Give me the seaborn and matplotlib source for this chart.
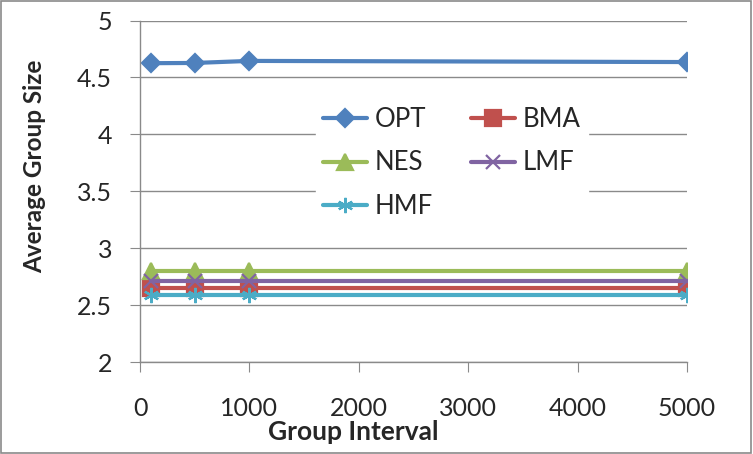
import pandas as pd
import matplotlib.pyplot as plt
import seaborn as sns
from matplotlib.patches import Rectangle

# data
intervals = [100, 500, 1000, 5000]
opt = [4.625, 4.627, 4.645, 4.635]
bma = [2.65, 2.65, 2.65, 2.65]
nes = [2.80, 2.80, 2.80, 2.80]
lmf = [2.71, 2.71, 2.71, 2.71]
hmf = [2.59, 2.59, 2.59, 2.59]
methods = ["OPT", "BMA", "NES", "LMF", "HMF"]

rows = []
for name, vals in zip(methods, [opt, bma, nes, lmf, hmf]):
    for x, y in zip(intervals, vals):
        rows.append({"interval": x, "size": y, "method": name})
df = pd.DataFrame(rows)

sns.set_style("white")
plt.rcParams["font.family"] = ["Lato", "DejaVu Sans"]

colors = {"OPT": "#4F81BD", "BMA": "#C0504D", "NES": "#9BBB59",
          "LMF": "#8064A2", "HMF": "#4BACC6"}
markers = {"OPT": "D", "BMA": "s", "NES": "^", "LMF": "x", "HMF": (6, 2, 0)}
msize = {"OPT": 9, "BMA": 11, "NES": 11, "LMF": 10, "HMF": 11}

fig = plt.figure(figsize=(7.53, 4.54), dpi=100)
ax = fig.add_axes([140 / 753, 1 - 362 / 454, 547 / 753, 341.5 / 454])

for name in methods:
    sub = df[df["method"] == name]
    sns.lineplot(data=sub, x="interval", y="size", ax=ax, color=colors[name],
                 linewidth=3, marker=markers[name], markersize=msize[name],
                 markeredgewidth=1.6, markeredgecolor=colors[name],
                 label=name, legend=False)

ax.set_xlim(0, 5000)
ax.set_ylim(2, 5)
ax.set_xticks(range(0, 5001, 1000))
ax.set_yticks([2, 2.5, 3, 3.5, 4, 4.5, 5])
ax.set_yticklabels(["2", "2.5", "3", "3.5", "4", "4.5", "5"])
ax.yaxis.grid(True, color="#8a8a8a", linewidth=1)
ax.set_axisbelow(True)
for side in ["top", "right"]:
    ax.spines[side].set_visible(False)
for side in ["left", "bottom"]:
    ax.spines[side].set_color("#8a8a8a")
    ax.spines[side].set_linewidth(1)
ax.tick_params(axis="both", which="major", direction="out", length=7,
               color="#8a8a8a", labelsize=18, left=True, bottom=True)
ax.tick_params(axis="y", pad=13)
ax.tick_params(axis="x", pad=18)
ax.set_xlabel("")
ax.set_ylabel("")

fig.text(353 / 753, 1 - 432 / 454, "Group Interval", ha="center", va="center",
         fontsize=19, fontweight="bold")
fig.text(35 / 753, 1 - 166 / 454, "Average Group Size", ha="center", va="center",
         rotation=90, fontsize=17.5, fontweight="bold")

handles, labels = ax.get_legend_handles_labels()
order = ["OPT", "NES", "HMF", "BMA", "LMF"]
hmap = dict(zip(labels, handles))
leg = fig.legend([hmap[k] for k in order], order, ncol=2, loc="center",
                 bbox_to_anchor=(452 / 753, 1 - 163 / 454), fontsize=18.5,
                 frameon=True, facecolor="white", edgecolor="white",
                 framealpha=1, handlelength=1.7, handletextpad=0.3,
                 columnspacing=1.5, labelspacing=0.72, borderpad=0.3)

fig.add_artist(Rectangle((0.001, 0.002), 0.997, 0.996, transform=fig.transFigure,
                         fill=False, edgecolor="#8a8a8a", linewidth=1.2))

fig.savefig("out.png", dpi=100)
